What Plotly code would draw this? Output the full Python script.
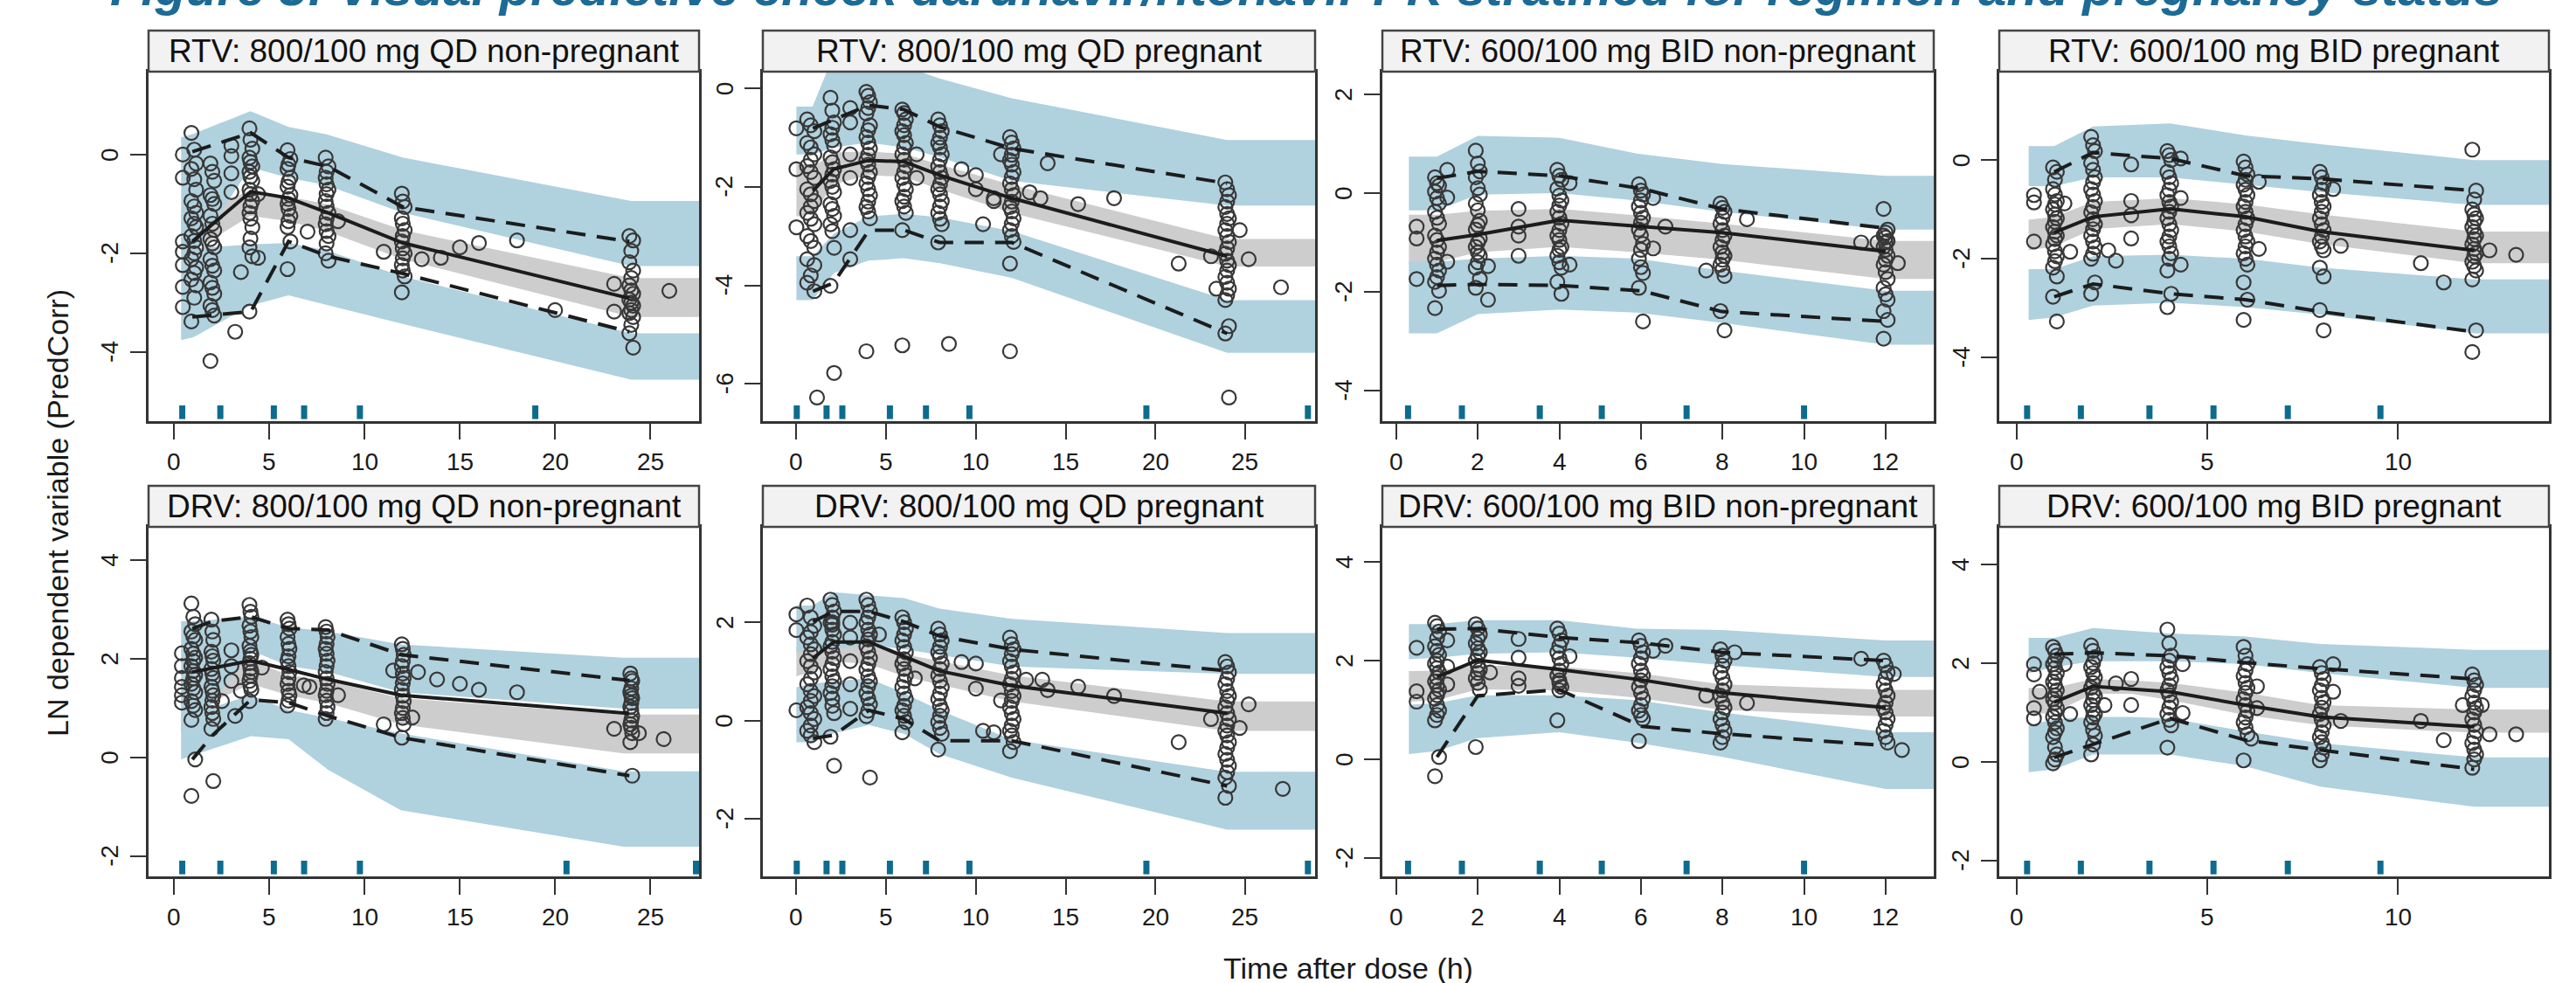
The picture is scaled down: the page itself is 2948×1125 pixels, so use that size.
import plotly.graph_objects as go

FIG_W, FIG_H = 2948, 1125

# ---------------------------------------------------------------- text
title_text = "Figure 3: Visual predictive check darunavir/ritonavir PK stratified for regimen and pregnancy status"
strip_titles = [
    "RTV: 800/100 mg QD non-pregnant", "RTV: 800/100 mg QD pregnant",
    "RTV: 600/100 mg BID non-pregnant", "RTV: 600/100 mg BID pregnant",
    "DRV: 800/100 mg QD non-pregnant", "DRV: 800/100 mg QD pregnant",
    "DRV: 600/100 mg BID non-pregnant", "DRV: 600/100 mg BID pregnant",
]
x_title = "Time after dose (h)"
y_title = "LN dependent variable (PredCorr)"

# ---------------------------------------------------------------- axes
x_ranges = [[-1.35, 27.56], [-1.87, 28.9], [-0.34, 13.18], [-0.46, 13.96]]
x_ticks = [[0, 5, 10, 15, 20, 25], [0, 5, 10, 15, 20, 25], [0, 2, 4, 6, 8, 10, 12], [0, 5, 10]]
y_ranges = [[-5.4, 1.68], [-6.76, 0.34], [-4.62, 2.46], [-5.29, 1.79],
            [-2.41, 4.67], [-3.17, 3.94], [-2.37, 4.71], [-2.32, 4.76]]
y_ticks = [[-4, -2, 0], [-6, -4, -2, 0], [-4, -2, 0, 2], [-4, -2, 0],
           [-2, 0, 2, 4], [-2, 0, 2], [-2, 0, 2, 4], [-2, 0, 2, 4]]

# ---------------------------------------------------------------- rug (bin boundaries)
rug_c1_r1 = [0.42, 2.42, 5.23, 6.82, 9.75, 18.96]
rug_c1_r2 = [0.42, 2.42, 5.23, 6.82, 9.75, 20.6, 27.4]
rug_c2 = [0.02, 1.68, 2.56, 5.21, 7.22, 9.64, 19.5, 28.5]
rug_c3 = [0.29, 1.61, 3.52, 5.04, 7.12, 10.0]
rug_c4 = [0.27, 1.68, 3.48, 5.16, 7.11, 9.54]

# ================================================================ RTV QD non-pregnant
rqn_pts = [
    (0.45, [0.0, -0.47, -1.76, -1.97, -2.24, -2.68, -3.09]),
    (0.9, [0.44, -0.29, -0.94, -1.29, -1.65, -2.12, -2.53, -3.38]),
    (1.05, [0.1, -0.5, -1.05, -1.4, -1.75, -2.0, -2.4, -2.9]),
    (1.15, [-0.18, -0.71, -1.18, -1.47, -1.88, -2.29, -2.65]),
    (1.9, [-0.18, -0.82, -1.24, -1.71, -2.12, -2.59, -3.06, -4.18]),
    (2.0, [-0.35, -0.9, -1.4, -1.8, -2.25, -2.7, -3.15]),
    (2.1, [-0.53, -1.0, -1.53, -1.88, -2.35, -2.82, -3.26]),
    (3.0, [0.18, -0.03, -0.38, -0.76]), (3.2, [-3.59]), (3.5, [-2.38]),
    (3.95, [0.53, -0.06, -0.35, -0.71, -1.18, -1.88, -3.18]),
    (4.0, [0.3, -0.15, -0.45, -0.8, -1.05, -1.3, -1.7]),
    (4.1, [0.12, -0.24, -0.53, -0.94, -1.47, -2.06]),
    (4.4, [-2.09, -0.8]),
    (5.95, [0.09, -0.29, -0.65, -1.0, -1.47, -2.32]),
    (6.0, [-0.2, -0.55, -0.9, -1.1, -1.35]),
    (6.1, [-0.09, -0.47, -0.82, -1.24, -1.76]),
    (7.0, [-1.56]),
    (7.95, [-0.06, -0.47, -0.94, -1.41, -2.0]),
    (8.0, [-0.35, -0.6, -0.8, -1.05, -1.3, -1.55, -1.8]),
    (8.1, [-0.24, -0.71, -1.18, -1.65, -2.15]),
    (8.6, [-1.35]), (11.0, [-1.97]),
    (11.95, [-0.79, -1.29, -1.76, -2.24, -2.79]),
    (12.0, [-0.95, -1.4, -1.65, -1.9, -2.1, -2.35]),
    (12.1, [-1.06, -1.53, -2.0, -2.47]),
    (13.0, [-2.12]), (14.0, [-2.09]), (15.0, [-1.88]), (16.0, [-1.79]), (18.0, [-1.74]), (20.0, [-3.15]),
    (23.1, [-2.62, -3.18]),
    (23.9, [-1.65, -2.18, -2.65, -2.94, -3.21, -3.62]),
    (24.0, [-1.95, -2.5, -2.75, -3.0, -3.15, -3.45]),
    (24.1, [-1.74, -2.35, -2.82, -3.06, -3.29, -3.91]),
    (26.0, [-2.76]),
]
rqn_bt = [0.36, 1.0, 4.0, 6.0, 8.0, 12.0, 24.0, 27.6]
rqn_p95_hi = [0.35, 0.42, 0.88, 0.56, 0.41, -0.06, -0.94, -0.94]
rqn_p95_lo = [-2.0, -2.0, -0.26, -0.47, -0.62, -1.18, -2.26, -2.26]
rqn_p50_hi = [-1.2, -1.25, -0.72, -0.85, -1.0, -1.53, -2.5, -2.5]
rqn_p50_lo = [-1.95, -1.95, -1.24, -1.35, -1.55, -2.12, -3.29, -3.29]
rqn_p05_hi = [-1.9, -1.9, -1.82, -1.79, -1.94, -2.47, -3.62, -3.62]
rqn_p05_lo = [-3.76, -3.7, -3.06, -2.85, -3.04, -3.43, -4.56, -4.56]
rqn_ot = [0.95, 4.02, 6.0, 8.08, 12.0, 23.9]
rqn_o50 = [-1.76, -0.75, -0.88, -1.18, -1.79, -2.91]
rqn_o95 = [0.06, 0.44, -0.06, -0.24, -1.06, -1.76]
rqn_o05 = [-3.29, -3.18, -1.76, -2.06, -2.41, -3.59]

# ================================================================ RTV QD pregnant
rqp_pts = [
    (0.0, [-0.81, -1.64, -2.82]),
    (0.6, [-0.63, -1.11, -1.58, -2.05, -2.53, -3.0, -3.47, -3.95]),
    (0.8, [-0.75, -1.2, -1.7, -2.15, -2.65, -3.1, -3.8, -1.45, -2.4]),
    (1.0, [-0.87, -1.34, -1.82, -2.29, -2.76, -3.24, -3.59, -4.12]),
    (1.15, [-6.28]),
    (1.9, [-0.19, -0.93, -1.4, -1.88, -2.35, -2.76, -4.01]),
    (2.0, [-0.45, -1.05, -1.5, -2.0, -2.45, -2.9, -0.8, -1.75]),
    (2.1, [-0.69, -1.17, -1.64, -2.11, -2.59, -3.24, -5.78]),
    (3.0, [-0.4, -0.69, -1.34, -1.82, -2.88, -3.47]),
    (3.9, [-0.07, -0.51, -0.99, -1.46, -1.93, -2.41, -5.34]),
    (4.0, [-0.15, -0.4, -0.85, -1.1, -1.35, -1.55, -1.8, -2.05, -2.3, -2.5]),
    (4.1, [-0.28, -0.75, -1.22, -1.7, -2.17, -2.64]),
    (5.9, [-0.43, -0.87, -1.34, -1.82, -2.29, -2.88, -5.22]),
    (6.0, [-0.5, -0.75, -0.95, -1.2, -1.45, -1.7, -1.95, -2.2, -2.4]),
    (6.1, [-0.63, -1.11, -1.58, -2.05, -2.53]),
    (6.7, [-1.34, -1.82]),
    (7.9, [-0.63, -1.11, -1.58, -2.05, -2.53, -3.13]),
    (8.0, [-0.75, -1.0, -1.2, -1.45, -1.7, -1.95, -2.15, -2.4, -2.65]),
    (8.1, [-0.87, -1.34, -1.82, -2.29, -2.76]),
    (8.5, [-5.19]), (9.2, [-1.64]), (10.0, [-1.76, -2.05]), (10.4, [-2.76]), (11.0, [-2.23, -2.29]), (11.4, [-1.34]),
    (11.9, [-0.99, -1.46, -1.93, -2.41, -2.88, -3.56, -5.34]),
    (12.0, [-1.1, -1.35, -1.55, -1.8, -2.05, -2.3, -2.5, -2.75, -3.0]),
    (12.1, [-1.22, -1.7, -2.17, -2.64, -3.12]),
    (13.0, [-2.11]), (13.6, [-2.23]), (14.0, [-1.52]), (15.7, [-2.35]), (17.7, [-2.23]), (21.3, [-3.56]),
    (23.1, [-3.41]), (23.4, [-4.07]),
    (23.9, [-1.91, -2.41, -2.88, -3.36, -3.83, -4.3, -4.98]),
    (24.0, [-2.05, -2.3, -2.55, -2.75, -3.0, -3.25, -3.5, -3.7, -3.95, -4.2]),
    (24.1, [-2.17, -2.64, -3.12, -3.59, -4.07, -4.83, -6.28]),
    (24.7, [-2.88]), (25.2, [-3.47]), (27.0, [-4.04]),
]
rqp_bt = [0.0, 0.9, 2.1, 4.0, 6.0, 8.0, 12.0, 24.0, 28.9]
rqp_p95_hi = [-0.37, -0.37, 0.7, 0.7, 0.45, 0.2, -0.2, -1.05, -1.05]
rqp_p95_lo = [-1.34, -1.34, -1.2, -1.1, -1.2, -1.4, -1.88, -2.38, -2.38]
rqp_p50_hi = [-1.5, -1.6, -1.3, -1.28, -1.33, -1.55, -1.96, -3.06, -3.06]
rqp_p50_lo = [-2.6, -2.55, -1.95, -1.76, -1.8, -2.05, -2.53, -3.62, -3.62]
rqp_p05_hi = [-3.41, -3.41, -2.95, -2.6, -2.55, -2.62, -2.9, -4.3, -4.3]
rqp_p05_lo = [-4.3, -4.3, -3.75, -3.5, -3.45, -3.55, -3.85, -5.37, -5.37]
rqp_ot = [0.92, 2.08, 4.04, 6.0, 7.97, 12.0, 24.0]
rqp_o50 = [-2.08, -1.64, -1.46, -1.49, -1.76, -2.23, -3.41]
rqp_o95 = [-0.81, -0.63, -0.34, -0.43, -0.78, -1.22, -1.93]
rqp_o05 = [-4.12, -3.95, -2.88, -2.88, -3.13, -3.13, -4.98]

# ================================================================ RTV BID non-pregnant
rbn_pts = [
    (0.5, [-0.68, -0.92, -1.74]),
    (0.95, [0.32, 0.03, -0.38, -0.86, -1.33, -1.8, -2.33]),
    (1.0, [0.2, -0.1, -0.5, -0.95, -1.2, -1.45, -1.7]),
    (1.05, [0.15, -0.21, -0.62, -1.09, -1.57, -1.98]),
    (1.25, [0.47, -0.09, -1.39]),
    (1.95, [0.86, 0.32, -0.21, -0.74, -1.09, -1.51, -1.92]),
    (2.0, [0.6, 0.1, -0.35, -0.65, -1.0, -1.2, -1.4]),
    (2.05, [0.44, -0.03, -0.56, -0.92, -1.27, -1.74]),
    (2.25, [-2.16, -1.48]),
    (3.0, [-0.32, -0.68, -0.86, -1.27]),
    (3.95, [0.47, 0.09, -0.38, -0.86, -1.27, -1.8]),
    (4.0, [0.35, -0.05, -0.25, -0.5, -0.75, -0.95, -1.15, -1.4]),
    (4.05, [0.27, -0.15, -0.62, -1.09, -1.51, -2.04]),
    (4.25, [-1.45, 0.2]),
    (5.95, [0.18, -0.27, -0.74, -1.33, -1.92]),
    (6.0, [0.05, -0.15, -0.4, -0.6, -0.85, -1.15, -1.5]),
    (6.05, [-0.03, -0.5, -1.03, -1.62, -2.6]),
    (6.3, [-1.12, -0.1]), (6.6, [-0.68]), (7.6, [-1.57]),
    (7.95, [-0.21, -0.62, -1.09, -1.45, -2.39]),
    (8.0, [-0.3, -0.5, -0.75, -0.95, -1.2, -1.35, -1.55]),
    (8.05, [-0.38, -0.86, -1.27, -1.68, -2.78]),
    (8.6, [-0.53]), (11.4, [-1.0]), (11.8, [-1.0]),
    (11.95, [-0.32, -0.86, -1.09, -1.45, -1.92, -2.39, -2.95]),
    (12.0, [-0.8, -0.9, -1.0, -1.15, -1.35, -1.6, -2.05]),
    (12.05, [-0.74, -0.97, -1.27, -1.74, -2.16, -2.57]),
    (12.3, [-1.42]),
]
rbn_bt = [0.31, 1.0, 2.0, 4.0, 5.9, 8.0, 12.0, 13.18]
rbn_p95_hi = [0.74, 0.74, 1.16, 1.12, 0.8, 0.59, 0.35, 0.35]
rbn_p95_lo = [-0.35, -0.35, -0.03, 0.0, -0.15, -0.38, -0.74, -0.74]
rbn_p50_hi = [-0.44, -0.44, -0.36, -0.32, -0.45, -0.62, -0.97, -0.97]
rbn_p50_lo = [-1.45, -1.4, -1.2, -1.09, -1.2, -1.35, -1.74, -1.74]
rbn_p05_hi = [-1.39, -1.39, -1.33, -1.27, -1.33, -1.57, -1.98, -1.98]
rbn_p05_lo = [-2.84, -2.84, -2.45, -2.36, -2.42, -2.63, -3.07, -3.07]
rbn_ot = [1.0, 2.0, 4.0, 6.02, 7.98, 12.0]
rbn_o50 = [-0.96, -0.84, -0.55, -0.67, -0.80, -1.18]
rbn_o95 = [0.30, 0.44, 0.35, 0.09, -0.32, -0.71]
rbn_o05 = [-1.87, -1.85, -1.87, -1.98, -2.40, -2.60]

# ================================================================ RTV BID pregnant
rbp_pts = [
    (0.45, [-0.71, -0.86, -1.65]),
    (0.95, [-0.15, -0.59, -1.0, -1.36, -1.71, -2.18, -2.77]),
    (1.0, [-0.4, -0.7, -0.9, -1.1, -1.25, -1.45, -1.6, -1.85, -2.05]),
    (1.05, [-0.24, -0.83, -1.18, -1.53, -1.95, -2.36, -3.27]),
    (1.25, [-0.88]), (1.4, [-1.86]),
    (1.95, [0.47, -0.06, -0.59, -1.06, -1.53, -2.0, -2.71]),
    (2.0, [0.3, -0.2, -0.45, -0.7, -0.95, -1.2, -1.4, -1.65, -1.9]),
    (2.05, [0.18, -0.35, -0.83, -1.3, -1.77, -2.48]),
    (2.4, [-1.83]), (2.6, [-2.04]),
    (3.0, [-0.09, -0.83, -1.12, -1.59]),
    (3.95, [0.18, -0.24, -0.71, -1.18, -1.65, -2.24, -2.98]),
    (4.0, [0.1, -0.35, -0.6, -0.85, -1.05, -1.3, -1.55, -1.75, -2.0]),
    (4.05, [0.0, -0.47, -0.94, -1.42, -1.89, -2.71]),
    (4.3, [0.03, -0.77, -2.12]),
    (5.95, [-0.03, -0.5, -0.94, -1.42, -1.89, -2.48, -3.24]),
    (6.0, [-0.15, -0.4, -0.6, -0.85, -1.05, -1.3, -1.55, -1.75, -2.0]),
    (6.05, [-0.29, -0.71, -1.18, -1.65, -2.12, -2.83]),
    (6.35, [-0.44, -1.8]),
    (7.95, [-0.24, -0.71, -1.18, -1.65, -2.18, -3.04]),
    (8.0, [-0.35, -0.6, -0.85, -1.05, -1.3, -1.55, -1.75]),
    (8.05, [-0.47, -0.94, -1.42, -1.83, -2.36, -3.45]),
    (8.3, [-0.59]), (8.5, [-1.74]), (10.6, [-2.09]), (11.2, [-2.48]),
    (11.95, [0.21, -1.0, -1.36, -1.71, -2.06, -2.42, -3.89]),
    (12.0, [-0.8, -1.1, -1.25, -1.45, -1.6, -1.8, -1.95, -2.15]),
    (12.05, [-0.62, -1.18, -1.53, -1.89, -2.24, -3.45]),
    (12.4, [-1.83]), (13.1, [-1.92]),
]
rbp_bt = [0.31, 0.98, 2.0, 4.03, 6.0, 7.96, 12.0, 13.96]
rbp_p95_hi = [0.28, 0.28, 0.68, 0.74, 0.5, 0.32, 0.0, 0.0]
rbp_p95_lo = [-0.53, -0.53, -0.35, -0.35, -0.5, -0.65, -0.91, -0.91]
rbp_p50_hi = [-1.21, -1.15, -0.85, -0.77, -0.9, -1.1, -1.45, -1.45]
rbp_p50_lo = [-1.83, -1.75, -1.4, -1.3, -1.45, -1.7, -2.09, -2.09]
rbp_p05_hi = [-2.21, -2.21, -1.95, -1.92, -2.0, -2.18, -2.42, -2.42]
rbp_p05_lo = [-3.24, -3.19, -2.95, -2.89, -2.98, -3.13, -3.51, -3.51]
rbp_ot = [0.98, 2.0, 4.03, 6.0, 7.96, 12.0]
rbp_o50 = [-1.47, -1.15, -0.99, -1.15, -1.45, -1.83]
rbp_o95 = [-0.24, 0.15, 0.03, -0.32, -0.38, -0.62]
rbp_o05 = [-2.77, -2.51, -2.71, -2.83, -3.07, -3.48]

# ================================================================ DRV QD non-pregnant
dqn_pts = [
    (0.4, [2.11, 1.85, 1.61, 1.43, 1.26, 1.11]),
    (0.9, [3.12, 2.55, 2.2, 1.85, 1.49, 1.14, 0.76, -0.78]),
    (1.0, [2.85, 2.45, 2.1, 1.75, 1.4, 1.05, 1.6, 1.95]),
    (1.1, [2.7, 2.38, 2.02, 1.67, 1.32, 0.96, -0.04]),
    (1.95, [2.79, 2.14, 1.79, 1.43, 1.02, 0.58]),
    (2.0, [2.55, 2.05, 1.7, 1.35, 1.15, 0.9]),
    (2.05, [2.38, 1.96, 1.61, 1.26, 0.78, -0.48]),
    (2.5, [1.14]),
    (3.0, [2.17, 1.85, 1.55]), (3.2, [0.84]), (3.5, [1.35]),
    (3.95, [3.09, 2.67, 2.26, 1.91, 1.55, 1.14]),
    (4.0, [2.95, 2.55, 2.15, 1.8, 1.65, 1.45, 2.0]),
    (4.05, [2.85, 2.44, 2.08, 1.73, 1.37]),
    (4.6, [1.82]),
    (5.95, [2.79, 2.44, 1.96, 1.49, 1.05]),
    (6.0, [2.7, 2.3, 2.05, 1.85, 1.6, 1.35, 1.15]),
    (6.05, [2.61, 2.2, 1.73, 1.26]),
    (6.8, [1.46]), (7.1, [1.43]),
    (7.95, [2.64, 2.2, 1.73, 1.26, 0.78]),
    (8.0, [2.55, 2.3, 2.1, 1.85, 1.6, 1.35, 1.15, 0.9]),
    (8.05, [2.44, 1.96, 1.49, 1.02]),
    (8.6, [1.26]), (11.0, [0.67]), (11.5, [1.76]),
    (11.95, [2.29, 1.85, 1.37, 0.9, 0.4]),
    (12.0, [2.2, 1.95, 1.7, 1.5, 1.25, 1.0, 0.8]),
    (12.05, [2.08, 1.61, 1.14, 0.67]),
    (12.5, [0.81]), (12.8, [1.73]),
    (13.8, [1.58]), (15.0, [1.49]), (16.0, [1.37]), (18.0, [1.32]),
    (23.1, [0.58]),
    (23.95, [1.7, 1.32, 1.02, 0.67, 0.31]),
    (24.0, [1.6, 1.4, 1.1, 0.95, 0.75, 0.6, 1.25]),
    (24.05, [1.55, 1.2, 0.84, 0.49, -0.37]),
    (24.4, [0.49]), (25.7, [0.37]),
]
dqn_bt = [0.36, 1.05, 4.02, 6.0, 8.08, 11.9, 23.6, 27.6]
dqn_p95_hi = [2.76, 2.76, 2.85, 2.64, 2.55, 2.29, 2.02, 2.02]
dqn_p95_lo = [0.5, 0.6, 2.17, 1.85, 1.73, 1.32, 0.99, 0.99]
dqn_p50_hi = [1.55, 1.55, 1.96, 1.67, 1.55, 1.2, 0.87, 0.87]
dqn_p50_lo = [0.9, 0.95, 1.49, 1.26, 1.1, 0.67, 0.08, 0.08]
dqn_p05_hi = [0.9, 0.9, 1.26, 0.96, 0.8, 0.49, -0.28, -0.28]
dqn_p05_lo = [-0.04, 0.05, 0.43, 0.37, -0.25, -1.07, -1.81, -1.81]
dqn_ot = [0.95, 2.04, 4.02, 6.0, 8.08, 11.94, 23.9]
dqn_o50 = [1.73, 1.81, 1.96, 1.78, 1.58, 1.26, 0.89]
dqn_o95 = [2.61, 2.76, 2.85, 2.61, 2.58, 2.08, 1.56]
dqn_o05 = [-0.04, 0.46, 1.17, 1.11, 0.84, 0.4, -0.37]

# ================================================================ DRV QD pregnant
dqp_pts = [
    (0.0, [2.16, 1.84, 0.21]),
    (0.6, [2.34, 1.69, 1.21, 0.74, 0.27, -0.21]),
    (0.8, [2.1, 1.8, 1.55, 1.35, 1.1, 0.85, 0.6, 0.4, 0.15, -0.1, -0.3]),
    (1.0, [1.93, 1.45, 0.98, 0.5, 0.03, -0.44]),
    (1.9, [2.46, 1.99, 1.51, 1.04, 0.56, -0.33]),
    (2.0, [2.35, 2.1, 1.85, 1.6, 1.4, 1.15, 0.9, 0.7, 0.45, 0.3, 1.95, 2.0]),
    (2.1, [2.22, 1.75, 1.27, 0.8, 0.15, -0.92]),
    (3.0, [1.99, 1.69, 1.21, 0.74, 0.24]),
    (3.9, [2.46, 1.99, 1.51, 1.04, 0.56, 0.09]),
    (4.0, [2.35, 2.1, 1.85, 1.65, 1.4, 1.15, 0.9, 0.7, 0.45, 0.2]),
    (4.1, [2.22, 1.75, 1.27, 0.8, 0.33, -1.16]),
    (4.6, [1.75]),
    (5.9, [2.1, 1.63, 1.16, 0.68, 0.21, -0.24]),
    (6.0, [2.0, 1.75, 1.5, 1.25, 1.05, 0.8, 0.55, 0.3, 0.1]),
    (6.1, [1.87, 1.39, 0.92, 0.44, -0.03]),
    (6.6, [0.86]),
    (7.9, [1.87, 1.39, 0.92, 0.44, -0.03, -0.59]),
    (8.0, [1.75, 1.5, 1.3, 1.05, 0.8, 0.55, 0.3, 0.1, -0.15]),
    (8.1, [1.63, 1.16, 0.68, 0.21, -0.27]),
    (9.2, [1.19]), (10.0, [1.16, 0.65]), (10.4, [-0.21]), (11.0, [-0.24]), (11.4, [0.41]),
    (11.9, [1.69, 1.21, 0.74, 0.27, -0.21, -0.62]),
    (12.0, [1.55, 1.35, 1.1, 0.85, 0.6, 0.4, 0.15, -0.1, -0.3]),
    (12.1, [1.45, 0.98, 0.5, 0.03, -0.44]),
    (12.8, [0.83]), (13.7, [0.83]), (14.0, [0.62]), (15.7, [0.69]), (17.7, [0.5]), (21.3, [-0.44]),
    (23.1, [0.03]),
    (23.9, [1.19, 0.74, 0.27, -0.21, -0.68, -1.16, -1.57]),
    (24.0, [1.1, 0.85, 0.6, 0.4, 0.15, -0.1, -0.3, -0.55, -0.8, -1.05]),
    (24.1, [0.98, 0.5, 0.03, -0.44, -0.92, -1.33]),
    (24.7, [-0.15]), (25.2, [0.33]), (27.1, [-1.39]),
]
dqp_bt = [0.0, 0.92, 2.08, 4.04, 6.0, 7.97, 12.0, 24.0, 28.9]
dqp_p95_hi = [2.34, 2.34, 2.61, 2.55, 2.49, 2.28, 2.07, 1.78, 1.78]
dqp_p95_lo = [1.4, 1.4, 1.45, 1.54, 1.45, 1.33, 1.1, 0.95, 0.95]
dqp_p50_hi = [1.5, 1.55, 1.6, 1.55, 1.35, 1.21, 0.92, 0.39, 0.39]
dqp_p50_lo = [0.9, 1.0, 1.2, 1.15, 0.9, 0.74, 0.39, -0.21, -0.21]
dqp_p05_hi = [0.68, 0.75, 0.8, 0.86, 0.56, 0.21, -0.39, -1.04, -1.04]
dqp_p05_lo = [-0.44, -0.44, -0.26, -0.09, -0.27, -0.68, -1.16, -2.22, -2.22]
dqp_ot = [0.92, 2.08, 4.04, 6.0, 7.97, 12.0, 24.0]
dqp_o50 = [1.27, 1.6, 1.6, 1.3, 1.01, 0.71, 0.15]
dqp_o95 = [2.01, 2.22, 2.22, 2.01, 1.72, 1.45, 1.01]
dqp_o05 = [-0.36, -0.3, 0.21, 0.03, -0.41, -0.41, -1.33]

# ================================================================ DRV BID non-pregnant
dbn_pts = [
    (0.5, [2.26, 1.38, 1.17]),
    (0.95, [2.77, 2.29, 1.94, 1.58, 1.23, 0.79, -0.34]),
    (1.0, [2.7, 2.45, 2.2, 2.0, 1.85, 1.65, 1.5, 1.3, 1.1, 0.9]),
    (1.05, [2.59, 2.12, 1.76, 1.41, 0.99, 0.05]),
    (1.25, [2.41, 1.88, 1.52]),
    (1.95, [2.74, 2.35, 2.0, 1.64, 0.25]),
    (2.0, [2.65, 2.45, 2.25, 2.1, 1.9, 1.75, 1.55]),
    (2.05, [2.53, 2.17, 1.82, 1.41]),
    (2.3, [1.76]),
    (3.0, [2.44, 2.06, 1.64, 1.49]),
    (3.95, [2.65, 2.17, 1.7, 0.79]),
    (4.0, [2.55, 2.3, 2.05, 1.8, 1.6, 1.4, 1.55]),
    (4.05, [2.41, 1.94, 1.47]),
    (4.25, [2.09]),
    (5.95, [2.41, 1.94, 1.47, 0.99, 0.37]),
    (6.0, [2.3, 2.05, 1.8, 1.6, 1.35, 1.1, 0.9]),
    (6.05, [2.17, 1.7, 1.23, 0.82]),
    (6.3, [2.2]), (6.6, [2.3]), (7.6, [1.29]),
    (7.95, [2.23, 1.76, 1.29, 0.82, 0.34]),
    (8.0, [2.1, 1.9, 1.65, 1.4, 1.15, 0.95, 0.7, 0.45]),
    (8.05, [2.0, 1.52, 1.05, 0.58]),
    (8.3, [2.17]), (8.6, [1.14]), (11.4, [2.04]),
    (11.95, [2.0, 1.52, 1.05, 0.58]),
    (12.0, [1.9, 1.65, 1.4, 1.15, 0.95, 0.7, 0.45]),
    (12.05, [1.76, 1.29, 0.82, 0.34]),
    (12.2, [1.73]), (12.4, [0.19]),
]
dbn_bt = [0.31, 1.0, 2.0, 4.0, 5.9, 8.0, 12.0, 13.18]
dbn_p95_hi = [2.74, 2.74, 2.82, 2.82, 2.65, 2.62, 2.41, 2.41]
dbn_p95_lo = [2.03, 2.06, 2.14, 2.17, 2.06, 1.91, 1.67, 1.67]
dbn_p50_hi = [1.79, 1.8, 1.9, 1.88, 1.75, 1.52, 1.41, 1.41]
dbn_p50_lo = [1.17, 1.2, 1.42, 1.4, 1.25, 1.0, 0.87, 0.87]
dbn_p05_hi = [1.11, 1.14, 1.3, 1.3, 1.2, 0.95, 0.55, 0.55]
dbn_p05_lo = [0.11, 0.17, 0.43, 0.55, 0.34, 0.05, -0.6, -0.6]
dbn_ot = [1.0, 2.0, 4.0, 6.02, 7.98, 12.0]
dbn_o50 = [1.67, 2.01, 1.82, 1.61, 1.35, 1.05]
dbn_o95 = [2.64, 2.65, 2.47, 2.36, 2.17, 2.0]
dbn_o05 = [0.05, 1.29, 1.41, 0.67, 0.52, 0.28]

# ================================================================ DRV BID pregnant
dbp_pts = [
    (0.45, [1.98, 1.77, 1.09, 0.88]), (0.6, [1.42]),
    (0.95, [2.33, 1.98, 1.62, 1.27, 0.91, 0.5, -0.03]),
    (1.0, [2.25, 2.05, 1.9, 1.7, 1.55, 1.35, 1.2, 1.0, 0.8, 0.6, 0.3, 0.05]),
    (1.05, [2.15, 1.8, 1.45, 1.09, 0.68, 0.15]),
    (1.25, [1.98]), (1.4, [0.97]),
    (1.95, [2.36, 1.92, 1.5, 1.15, 0.8, 0.15]),
    (2.0, [2.25, 2.0, 1.8, 1.6, 1.4, 1.25, 1.05, 0.9, 0.65, 0.35]),
    (2.05, [2.12, 1.71, 1.33, 0.97, 0.53]),
    (2.3, [1.15]), (2.6, [1.59]),
    (3.0, [1.68, 1.15]),
    (3.95, [2.68, 1.92, 1.45, 0.97, 0.29]),
    (4.0, [2.4, 2.05, 1.8, 1.55, 1.35, 1.1, 0.85]),
    (4.05, [2.15, 1.68, 1.21, 0.74]),
    (4.35, [1.98, 0.99]),
    (5.95, [2.33, 1.74, 1.27, 0.8, 0.03]),
    (6.0, [2.15, 1.85, 1.6, 1.4, 1.15, 0.9, 0.7]),
    (6.05, [1.98, 1.5, 1.03, 0.56]),
    (6.3, [1.53, 1.09]), (6.15, [0.47]),
    (7.95, [1.92, 1.45, 0.97, 0.5, 0.03]),
    (8.0, [1.8, 1.55, 1.3, 1.1, 0.85, 0.6, 0.4, 0.15]),
    (8.05, [1.68, 1.21, 0.74, 0.29]),
    (8.3, [1.98, 1.42]), (8.5, [0.83]), (10.6, [0.83]), (11.2, [0.44]),
    (11.7, [1.15]),
    (11.95, [1.77, 1.33, 0.86, 0.38, -0.12]),
    (12.0, [1.65, 1.45, 1.2, 1.0, 0.75, 0.5, 0.25, 0.05]),
    (12.05, [1.56, 1.09, 0.62, 0.15]),
    (12.2, [1.15]), (12.4, [0.56]), (13.1, [0.56]),
]
dbp_bt = [0.31, 0.98, 2.0, 3.0, 4.03, 6.0, 7.96, 12.0, 13.96]
dbp_p95_hi = [2.51, 2.51, 2.71, 2.65, 2.6, 2.54, 2.39, 2.27, 2.27]
dbp_p95_lo = [1.8, 1.92, 2.04, 2.04, 2.04, 1.98, 1.8, 1.5, 1.5]
dbp_p50_hi = [1.5, 1.5, 1.68, 1.65, 1.6, 1.4, 1.15, 1.06, 1.06]
dbp_p50_lo = [0.95, 1.0, 1.38, 1.38, 1.25, 0.95, 0.74, 0.59, 0.59]
dbp_p05_hi = [0.74, 0.86, 0.91, 0.91, 0.88, 0.62, 0.38, 0.09, 0.09]
dbp_p05_lo = [-0.21, -0.15, 0.15, 0.15, 0.15, -0.09, -0.5, -0.91, -0.91]
dbp_ot = [0.98, 2.0, 4.03, 6.0, 7.96, 12.0]
dbp_o50 = [1.21, 1.53, 1.42, 1.15, 0.91, 0.71]
dbp_o95 = [2.18, 2.21, 2.15, 2.01, 1.89, 1.68]
dbp_o05 = [0.09, 0.35, 0.88, 0.44, 0.24, -0.15]

# ---------------------------------------------------------------- assemble
panels = [
    (rqn_pts, rqn_bt, rqn_p95_hi, rqn_p95_lo, rqn_p50_hi, rqn_p50_lo, rqn_p05_hi, rqn_p05_lo, rqn_ot, rqn_o50, rqn_o95, rqn_o05, rug_c1_r1),
    (rqp_pts, rqp_bt, rqp_p95_hi, rqp_p95_lo, rqp_p50_hi, rqp_p50_lo, rqp_p05_hi, rqp_p05_lo, rqp_ot, rqp_o50, rqp_o95, rqp_o05, rug_c2),
    (rbn_pts, rbn_bt, rbn_p95_hi, rbn_p95_lo, rbn_p50_hi, rbn_p50_lo, rbn_p05_hi, rbn_p05_lo, rbn_ot, rbn_o50, rbn_o95, rbn_o05, rug_c3),
    (rbp_pts, rbp_bt, rbp_p95_hi, rbp_p95_lo, rbp_p50_hi, rbp_p50_lo, rbp_p05_hi, rbp_p05_lo, rbp_ot, rbp_o50, rbp_o95, rbp_o05, rug_c4),
    (dqn_pts, dqn_bt, dqn_p95_hi, dqn_p95_lo, dqn_p50_hi, dqn_p50_lo, dqn_p05_hi, dqn_p05_lo, dqn_ot, dqn_o50, dqn_o95, dqn_o05, rug_c1_r2),
    (dqp_pts, dqp_bt, dqp_p95_hi, dqp_p95_lo, dqp_p50_hi, dqp_p50_lo, dqp_p05_hi, dqp_p05_lo, dqp_ot, dqp_o50, dqp_o95, dqp_o05, rug_c2),
    (dbn_pts, dbn_bt, dbn_p95_hi, dbn_p95_lo, dbn_p50_hi, dbn_p50_lo, dbn_p05_hi, dbn_p05_lo, dbn_ot, dbn_o50, dbn_o95, dbn_o05, rug_c3),
    (dbp_pts, dbp_bt, dbp_p95_hi, dbp_p95_lo, dbp_p50_hi, dbp_p50_lo, dbp_p05_hi, dbp_p05_lo, dbp_ot, dbp_o50, dbp_o95, dbp_o05, rug_c4),
]

# layout geometry (pixels)
col_px = [(170, 800), (873, 1505), (1582, 2213), (2288, 2917)]
row_px = [(82, 482), (603, 1003)]
STRIP_H = 47
YLAB_OFF = 44     # y tick-label centre, px left of the frame
XLAB_OFF = 46     # x tick-label centre, px below the frame

BLUE = "#b0d1de"
GREY = "#cdcdcd"
PT_COL = "#383838"
LINE_COL = "#1c1c1c"
RUG_COL = "#0d6c8e"
FONT = "Liberation Sans, Arial, Helvetica, sans-serif"
TICK_FONT = dict(family=FONT, size=28, color="#1a1a1a")

fig = go.Figure()
shapes = []
annotations = []
layout_axes = {}

for i, p in enumerate(panels):
    (pts, bt, p95h, p95l, p50h, p50l, p05h, p05l, ot, o50, o95, o05, rug) = p
    row, col = divmod(i, 4)
    n = i + 1
    xa = "x" if n == 1 else f"x{n}"
    ya = "y" if n == 1 else f"y{n}"

    def band(hi, lo, color):
        fig.add_trace(go.Scatter(
            x=list(bt) + list(bt)[::-1], y=list(hi) + list(lo)[::-1],
            mode="lines", fill="toself", fillcolor=color, line=dict(width=0),
            hoverinfo="skip", showlegend=False, xaxis=xa, yaxis=ya))

    band(p50h, p50l, GREY)
    band(p95h, p95l, BLUE)
    band(p05h, p05l, BLUE)

    px_, py_ = [], []
    for t, ys in pts:
        for v in ys:
            px_.append(t)
            py_.append(v)
    fig.add_trace(go.Scatter(
        x=px_, y=py_, mode="markers",
        marker=dict(symbol="circle-open", size=16, color=PT_COL, line=dict(width=2.2)),
        hoverinfo="skip", showlegend=False, xaxis=xa, yaxis=ya))

    fig.add_trace(go.Scatter(x=ot, y=o50, mode="lines", line=dict(color=LINE_COL, width=4),
                             hoverinfo="skip", showlegend=False, xaxis=xa, yaxis=ya))
    for o in (o95, o05):
        fig.add_trace(go.Scatter(x=ot, y=o, mode="lines",
                                 line=dict(color=LINE_COL, width=4, dash="22px,13px"),
                                 hoverinfo="skip", showlegend=False, xaxis=xa, yaxis=ya))

    for r in rug:
        shapes.append(dict(type="line", xref=xa, yref=f"{ya} domain", x0=r, x1=r, y0=0.006, y1=0.045,
                           line=dict(color=RUG_COL, width=7), layer="above"))

    l, r_ = col_px[col]
    t, b = row_px[row]
    xdom = [l / FIG_W, r_ / FIG_W]
    ydom = [1 - b / FIG_H, 1 - t / FIG_H]
    axis_common = dict(showgrid=False, zeroline=False, showline=True, mirror=True,
                       linecolor="#333333", linewidth=2.5, ticks="outside", ticklen=18,
                       tickwidth=2, tickcolor="#333333", showticklabels=False)
    layout_axes["xaxis" if n == 1 else f"xaxis{n}"] = dict(
        domain=xdom, range=x_ranges[col], anchor=ya, tickvals=x_ticks[col], **axis_common)
    layout_axes["yaxis" if n == 1 else f"yaxis{n}"] = dict(
        domain=ydom, range=y_ranges[i], anchor=xa, tickvals=y_ticks[i], **axis_common)

    # tick labels (x: horizontal, y: rotated as in R base graphics)
    for v in x_ticks[col]:
        annotations.append(dict(text=str(v), xref=xa, yref="paper", x=v,
                                y=1 - (b + XLAB_OFF) / FIG_H, xanchor="center", yanchor="middle",
                                showarrow=False, font=TICK_FONT))
    for v in y_ticks[i]:
        annotations.append(dict(text=str(v), xref="paper", yref=ya, x=(l - YLAB_OFF) / FIG_W,
                                y=v, xanchor="center", yanchor="middle", textangle=-90,
                                showarrow=False, font=TICK_FONT))

    # strip
    shapes.append(dict(type="rect", xref="paper", yref="paper",
                       x0=l / FIG_W, x1=r_ / FIG_W, y0=1 - t / FIG_H, y1=1 - (t - STRIP_H) / FIG_H,
                       fillcolor="#f2f2f2", line=dict(color="#444444", width=2.5), layer="above"))
    annotations.append(dict(text=strip_titles[i], xref="paper", yref="paper",
                            x=(l + r_) / 2 / FIG_W, y=1 - (t - STRIP_H / 2) / FIG_H,
                            xanchor="center", yanchor="middle", showarrow=False,
                            font=dict(family=FONT, size=37, color="#111111")))

annotations.append(dict(text=f"<b><i>{title_text}</i></b>", xref="paper", yref="paper",
                        x=1495 / FIG_W, y=1 - 20 / FIG_H, xanchor="center", yanchor="bottom",
                        showarrow=False, font=dict(family=FONT, size=58, color="#1d6b95")))
annotations.append(dict(text=x_title, xref="paper", yref="paper",
                        x=1543 / FIG_W, y=1 - 1108 / FIG_H, xanchor="center", yanchor="middle",
                        showarrow=False, font=dict(family=FONT, size=34, color="#1a1a1a")))
annotations.append(dict(text=y_title, xref="paper", yref="paper", textangle=-90,
                        x=66 / FIG_W, y=1 - 587 / FIG_H, xanchor="center", yanchor="middle",
                        showarrow=False, font=dict(family=FONT, size=34, color="#1a1a1a")))

fig.update_layout(width=FIG_W, height=FIG_H, autosize=False,
                  margin=dict(l=0, r=0, t=0, b=0),
                  paper_bgcolor="white", plot_bgcolor="white",
                  shapes=shapes, annotations=annotations, showlegend=False,
                  **layout_axes)

# remove the browser's default 8px body margin so the figure sits at the window origin
fig.write_html("out.html", config={"displayModeBar": False},
               post_script="document.body.style.margin='0';document.body.style.overflow='hidden';")
